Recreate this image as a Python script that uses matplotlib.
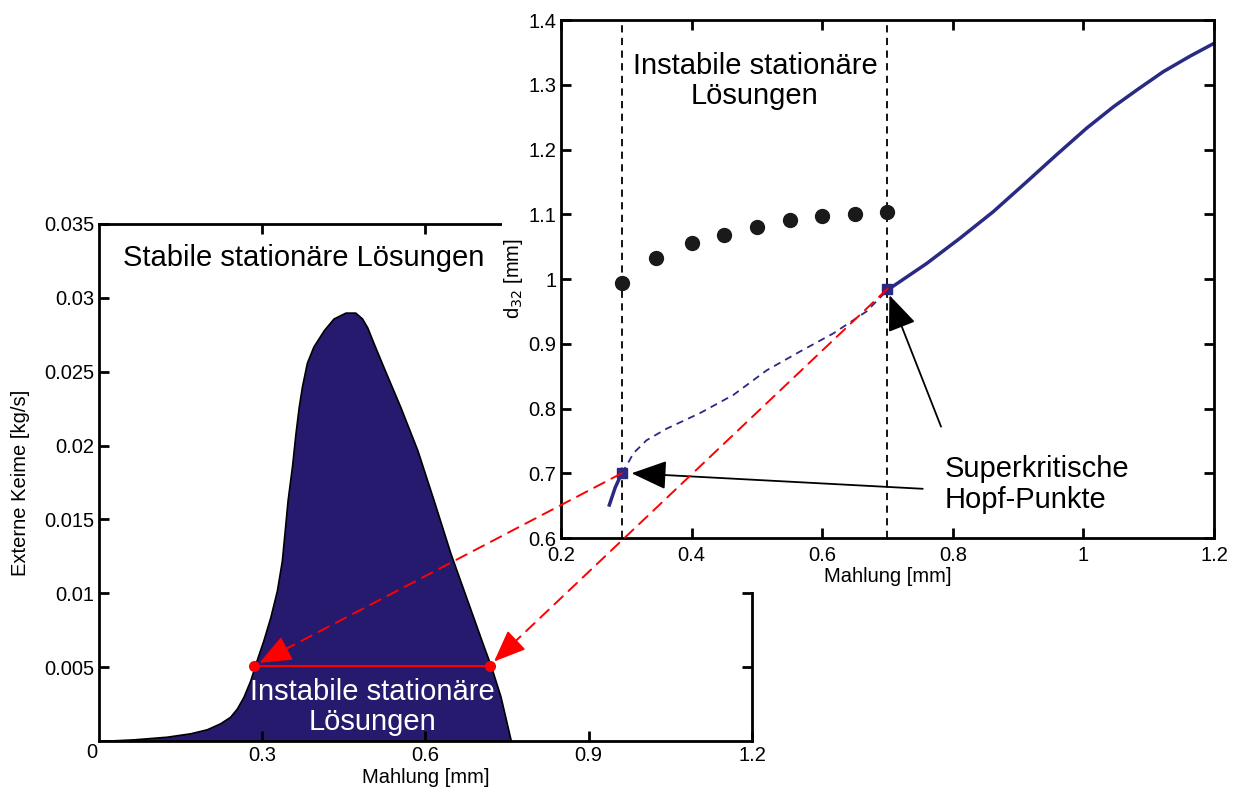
import numpy as np
import matplotlib.pyplot as plt
from matplotlib.patches import Rectangle, ConnectionPatch, FancyArrowPatch

plt.rcParams['font.family'] = ['Liberation Sans', 'DejaVu Sans']

# left plot: region of instability (Externe Keime vs Mahlung)
area_x = [0.0, 0.063, 0.1245, 0.1675, 0.198, 0.2227, 0.241, 0.2534, 0.2656, 0.278, 0.290,
          0.302, 0.315, 0.327, 0.336, 0.342, 0.3466, 0.3547, 0.361, 0.367, 0.373, 0.382,
          0.394, 0.413, 0.431, 0.453, 0.471, 0.4835, 0.493, 0.505, 0.523, 0.554, 0.585,
          0.615, 0.646, 0.677, 0.707, 0.72, 0.738, 0.757]
area_y = [0.0, 0.00011, 0.00029, 0.00052, 0.00079, 0.0012, 0.00164, 0.0022, 0.0030, 0.0041,
          0.0055, 0.0068, 0.0084, 0.0102, 0.0122, 0.0145, 0.0163, 0.0186, 0.0208, 0.0226,
          0.0240, 0.0256, 0.0267, 0.0278, 0.0286, 0.0290, 0.0290, 0.0286, 0.0280, 0.0269,
          0.0253, 0.0226, 0.0197, 0.0163, 0.0127, 0.0095, 0.0064, 0.0051, 0.0030, 0.0]
hopf_left_x = [0.285, 0.718]
hopf_left_y = [0.0051, 0.0051]

# right plot: d32 vs Mahlung
stable_low_x = [0.274, 0.283, 0.293]
stable_low_y = [0.651, 0.678, 0.700]
unstable_x = [0.293, 0.301, 0.311, 0.331, 0.362, 0.413, 0.464, 0.515, 0.566, 0.617, 0.668, 0.700]
unstable_y = [0.700, 0.713, 0.731, 0.751, 0.769, 0.793, 0.821, 0.859, 0.888, 0.916, 0.950, 0.983]
stable_up_x = [0.700, 0.760, 0.811, 0.862, 0.913, 0.959, 1.005, 1.046, 1.082, 1.122, 1.163, 1.200]
stable_up_y = [0.983, 1.024, 1.063, 1.104, 1.150, 1.192, 1.233, 1.266, 1.292, 1.320, 1.344, 1.364]
osc_x = [0.293, 0.345, 0.40, 0.45, 0.50, 0.55, 0.60, 0.65, 0.70]
osc_y = [0.994, 1.033, 1.055, 1.068, 1.081, 1.091, 1.097, 1.101, 1.104]
hopf_x = [0.293, 0.700]
hopf_y = [0.700, 0.985]

fill_col = '#261a6e'
line_col = '#2a2a85'

fig = plt.figure(figsize=(12.39, 7.92), dpi=100)

def style(ax):
    ax.tick_params(direction='in', length=7, width=2, top=True, right=True, labelsize=14.5)
    for s in ax.spines.values():
        s.set_linewidth(2)

# ---- left axes
ax1 = fig.add_axes([0.0799, 0.0644, 0.527, 0.6528])
ax1.fill_between(area_x, area_y, 0, facecolor=fill_col, edgecolor='black', linewidth=1.2)
ax1.plot(hopf_left_x, hopf_left_y, color='red', lw=1.5, marker='o', ms=7)
ax1.text(0.502, 0.0023, 'Instabile stationäre\nLösungen', color='white', fontsize=21,
         ha='center', va='center', linespacing=1.1)
ax1.text(0.044, 0.0327, 'Stabile stationäre Lösungen', fontsize=21, ha='left', va='center')
ax1.set_xlim(0, 1.2)
ax1.set_ylim(0, 0.035)
ax1.set_xticks([0.3, 0.6, 0.9, 1.2])
ax1.set_xticklabels(['0.3', '0.6', '0.9', '1.2'])
ax1.set_yticks([0.005, 0.01, 0.015, 0.02, 0.025, 0.03, 0.035])
ax1.set_yticklabels(['0.005', '0.01', '0.015', '0.02', '0.025', '0.03', '0.035'])
ax1.text(-0.014, -0.0008, '0', fontsize=14.5, ha='center', va='center')
ax1.set_xlabel('Mahlung [mm]', fontsize=14.5, labelpad=2)
ax1.set_ylabel('Externe Keime [kg/s]', fontsize=14.5, labelpad=10)
style(ax1)
ax1.set_zorder(0)

# white background behind the right plot
fig.add_artist(Rectangle((0.405, 0.2525), 0.6, 0.75, transform=fig.transFigure,
                         facecolor='white', edgecolor='none', zorder=1))

# ---- right axes
ax2 = fig.add_axes([0.4528, 0.3207, 0.527, 0.654])
ax2.set_zorder(2)
ax2.axvline(0.293, color='black', ls='--', lw=1.3, dashes=(4, 3))
ax2.axvline(0.700, color='black', ls='--', lw=1.3, dashes=(4, 3))
ax2.plot(stable_low_x, stable_low_y, color=line_col, lw=2.5)
ax2.plot(unstable_x, unstable_y, color=line_col, lw=1.3, ls='--', dashes=(4, 3))
ax2.plot(stable_up_x, stable_up_y, color=line_col, lw=2.5)
ax2.plot(osc_x, osc_y, 'o', color='#1a1a1a', ms=10)
ax2.plot(hopf_x, hopf_y, 's', color=line_col, ms=7)
ax2.text(0.497, 1.306, 'Instabile stationäre\nLösungen', fontsize=21, ha='center', va='center',
         linespacing=1.1)
ax2.text(0.787, 0.683, 'Superkritische\nHopf-Punkte', fontsize=21, ha='left', va='center',
         linespacing=1.15)
arrow = dict(arrowstyle='-|>,head_length=1.1,head_width=0.45', color='black', lw=1.3,
             shrinkA=0, shrinkB=0, mutation_scale=20)
ax2.annotate('', xy=(0.308, 0.700), xytext=(0.754, 0.676), arrowprops=arrow)
ax2.annotate('', xy=(0.703, 0.975), xytext=(0.782, 0.772), arrowprops=arrow)
ax2.set_xlim(0.2, 1.2)
ax2.set_ylim(0.6, 1.4)
ax2.set_xticks([0.2, 0.4, 0.6, 0.8, 1.0, 1.2])
ax2.set_xticklabels(['0.2', '0.4', '0.6', '0.8', '1', '1.2'])
ax2.set_yticks([0.6, 0.7, 0.8, 0.9, 1.0, 1.1, 1.2, 1.3, 1.4])
ax2.set_yticklabels(['0.6', '0.7', '0.8', '0.9', '1', '1.1', '1.2', '1.3', '1.4'])
ax2.set_xlabel('Mahlung [mm]', fontsize=14.5, labelpad=1)
ax2.set_ylabel('d$_{32}$ [mm]', fontsize=14.5, labelpad=2)
style(ax2)
ax2.tick_params(axis='x', pad=6)

# red dashed connections from the Hopf points to the left plot,
# dashed shaft plus a solid head on the last few pixels
inv = fig.transFigure.inverted()
for (xa, ya), (xb, yb) in zip(zip(hopf_x, hopf_y), zip(hopf_left_x, hopf_left_y)):
    pa = np.array(ax2.transData.transform((xa, ya)))
    pb = np.array(ax1.transData.transform((xb, yb)))
    d = (pb - pa) / np.hypot(*(pb - pa))
    tip = pb - d * 6
    pc = tip - d * 22
    con = ConnectionPatch(xyA=(xa, ya), coordsA=ax2.transData, xyB=tuple(inv.transform(pc)),
                          coordsB=fig.transFigure, arrowstyle='-', color='red', lw=1.4,
                          ls=(0, (6, 4)), shrinkA=0, shrinkB=0, zorder=5)
    fig.add_artist(con)
    head = FancyArrowPatch(tuple(inv.transform(pc)), tuple(inv.transform(tip)),
                           transform=fig.transFigure,
                           arrowstyle='-|>,head_length=1.1,head_width=0.45', color='red',
                           lw=1.4, shrinkA=0, shrinkB=0, mutation_scale=18, zorder=5)
    fig.add_artist(head)

fig.savefig('out.png', dpi=100)
